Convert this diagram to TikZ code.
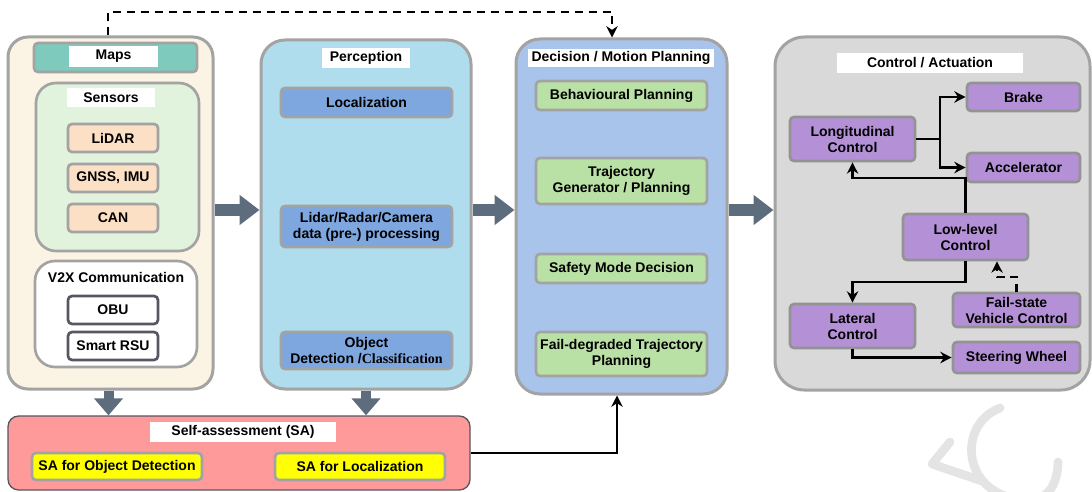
\documentclass[tikz,border=0pt]{standalone}
\usepackage{fontspec}
\setmainfont{Liberation Sans}
\newfontfamily\serifb{Liberation Serif}
\usetikzlibrary{arrows.meta,calc}
\definecolor{cream}{HTML}{FBF3E3}
\definecolor{tealc}{HTML}{7ECBBD}
\definecolor{sgreen}{HTML}{E1F2DD}
\definecolor{peach}{HTML}{FCE0C6}
\definecolor{pblue}{HTML}{AFDDEE}
\definecolor{lblue}{HTML}{7EA6DF}
\definecolor{dblue}{HTML}{A9C4EB}
\definecolor{lgreen}{HTML}{B9E0A5}
\definecolor{cgray}{HTML}{D9D9D9}
\definecolor{purp}{HTML}{B491D6}
\definecolor{slate}{HTML}{5D6D7E}
\definecolor{sared}{HTML}{FF9A9A}
\definecolor{yel}{HTML}{FFFF00}
\definecolor{bgray}{HTML}{A3A3A3}
\definecolor{dgray}{HTML}{5A5562}
\definecolor{wmgray}{HTML}{E4E4E4}
\begin{document}
\begin{tikzpicture}[x=0.75pt,y=-0.75pt,
  font=\fontsize{10.5}{12}\selectfont\bfseries,
  rect/.style args={#1/#2/#3/#4}{at={({(#1+#3)/2},{(#2+#4)/2})},
     minimum width={(#3-#1)*0.75pt}, minimum height={(#4-#2)*0.75pt}},
  colbox/.style={draw=bgray, line width=2.25pt, rounded corners=15pt, inner sep=0pt},
  ibox/.style={draw=bgray, line width=2pt, rounded corners=3pt, inner sep=0pt, align=center},
  pbox/.style={ibox, fill=purp, draw=bgray!90!black},
  lbl/.style={fill=white, inner sep=0pt},
  fath/.style={draw=slate, line width=9pt, -{Triangle[length=15pt,width=21.75pt]}},
  fatv/.style={draw=slate, line width=7.5pt, -{Triangle[length=12.75pt,width=21pt]}},
  conn/.style={black, line width=1.6pt, -{Stealth[length=8.5pt,width=8.5pt]}},
  cline/.style={black, line width=1.6pt},
  wm/.style={wmgray, line width=6.5pt, line cap=round, line join=round}]
\useasboundingbox (0,0) rectangle (1092,492);
\fill[white] (0,0) rectangle (1092,492);

% watermark
\draw[wm] (950,442) -- (932,464) -- (982,481);
\draw[wm] (1000,408) .. controls (955,425) and (962,500) .. (1030,500) .. controls (1050,500) and (1058,480) .. (1058,462);

% column 1
\node[colbox, fill=cream, rect=8/37/213/389] (c1) {};
\node[ibox, fill=tealc, rect=34/43/197/72] (maps) {};
\node[lbl, rect=69/46/158/67] (mapsl) {Maps};
\node[ibox, fill=sgreen, rounded corners=15pt, rect=36/83/199/251] (sens) {};
\node[lbl, rect=67/88/155/107] (sensl) {Sensors};
\node[ibox, fill=peach, rect=68/124/158/152] (lidar) {LiDAR};
\node[ibox, fill=peach, rect=68/164/158/192] (gnss) {GNSS, IMU};
\node[ibox, fill=peach, rect=68/204/158/232] (can) {CAN};
\node[ibox, fill=white, rounded corners=15pt, rect=35/261/197/367] (v2x) {};
\node (v2xl) at (116,277) {V2X Communication};
\node[ibox, draw=dgray, fill=white, rect=68/296/158/324] (obu) {OBU};
\node[ibox, draw=dgray, fill=white, rect=68/332/158/360] (rsu) {Smart RSU};

% column 2
\node[colbox, fill=pblue, rounded corners=18pt, rect=261/40/471/389] (c2) {};
\node[lbl, rect=322/48/410/68] (percl) {Perception};
\node[ibox, fill=lblue, rect=281/88/452/117] (loc) {Localization};
\node[ibox, fill=lblue, rect=281/206/452/247] (lrc) {Lidar/Radar/Camera\\data (pre-) processing};
\node[ibox, fill=lblue, rect=281/332/452/369] (od) {Object\\Detection /{\serifb Classification}};

% column 3
\node[colbox, fill=dblue, rounded corners=18pt, rect=516/39/727/394] (c3) {};
\node[lbl, rect=528/49/714/67] (decl) {Decision / Motion Planning};
\node[ibox, fill=lgreen, rect=536/81/707/110] (beh) {Behavioural Planning};
\node[ibox, fill=lgreen, rect=536/158/707/204] (traj) {Trajectory\\Generator / Planning};
\node[ibox, fill=lgreen, rect=536/254/707/283] (safe) {Safety Mode Decision};
\node[ibox, fill=lgreen, rect=536/332/707/376] (fdt) {Fail-degraded Trajectory\\Planning};

% column 4
\node[colbox, fill=cgray, rounded corners=22pt, rect=775/37/1090/390] (c4) {};
\node[lbl, rect=837/53/1023/73] (ctrll) {Control / Actuation};
\node[pbox, rect=967/83/1080/111] (brake) {Brake};
\node[pbox, rect=790/117/915/161] (lon) {Longitudinal\\Control};
\node[pbox, rect=967/153/1080/182] (acc) {Accelerator};
\node[pbox, rect=903/214/1028/260] (low) {Low-level\\Control};
\node[pbox, rect=953/293/1080/327] (fail) {Fail-state\\Vehicle Control};
\node[pbox, rect=790/304/915/348] (lat) {Lateral\\Control};
\node[pbox, rect=953/342/1080/373] (steer) {Steering Wheel};

% self-assessment
\node[draw=dgray, line width=1pt, fill=sared, rounded corners=8pt, inner sep=0pt, rect=8/416/470/490] (sa) {};
\node[lbl, rect=150/422/336/442] (sal) {Self-assessment (SA)};
\node[ibox, fill=yel, rect=32/453/202/480] (saod) {SA for Object Detection};
\node[ibox, fill=yel, rect=275/453/445/480] (saloc) {SA for Localization};

% fat arrows
\draw[fath] ($(c1.east)+(0,-3)$) -- ($(c1.east -| c2.west)+(0,-3)$);
\draw[fath] ($(c1.east -| c2.east)+(0,-3)$) -- ($(c1.east -| c3.west)+(0,-3)$);
\draw[fath] ($(c1.east -| c3.east)+(0,-3)$) -- ($(c1.east -| c4.west)+(0,-3)$);
\draw[fatv] ($(c1.south)+(-2,0)$) -- ($(c1.south |- sa.north)+(-2,0)$);
\draw[fatv] (c2.south) -- (c2.south |- sa.north);

% control connectors
\coordinate (jx) at (940,0);
\coordinate (ylo) at (0,178);
\coordinate (ylat) at (0,282);
\coordinate (xd) at (997,0);
\coordinate (yd) at (0,277);
\coordinate (ytop) at (0,12);
\draw[cline] (lon.east) -- (lon.east -| jx);
\draw[conn] (lon.east -| jx) |- (brake.west);
\draw[conn] (lon.east -| jx) |- (acc.west);
\draw[conn] (low.north) -- (low.north |- ylo) -| (lon.south);
\draw[conn] (low.south) -- (low.south |- ylat) -| (lat.north);
\draw[conn, dash pattern=on 6pt off 4pt] (fail.north) -- (fail.north |- yd) -| (low.south -| xd);
\draw[conn] (lat.south) |- (steer.west);

% self-assessment to decision
\draw[conn] (sa.east) -| ($(c3.south)+(-4.5,0)$);

% maps to decision (dashed)
\draw[conn, dash pattern=on 6pt off 4.5pt] ($(c1.north)+(-2.5,0)$) -- ($(c1.north |- ytop)+(-2.5,0)$) -| ($(c3.north)+(-9.5,0)$);
\end{tikzpicture}
\end{document}
